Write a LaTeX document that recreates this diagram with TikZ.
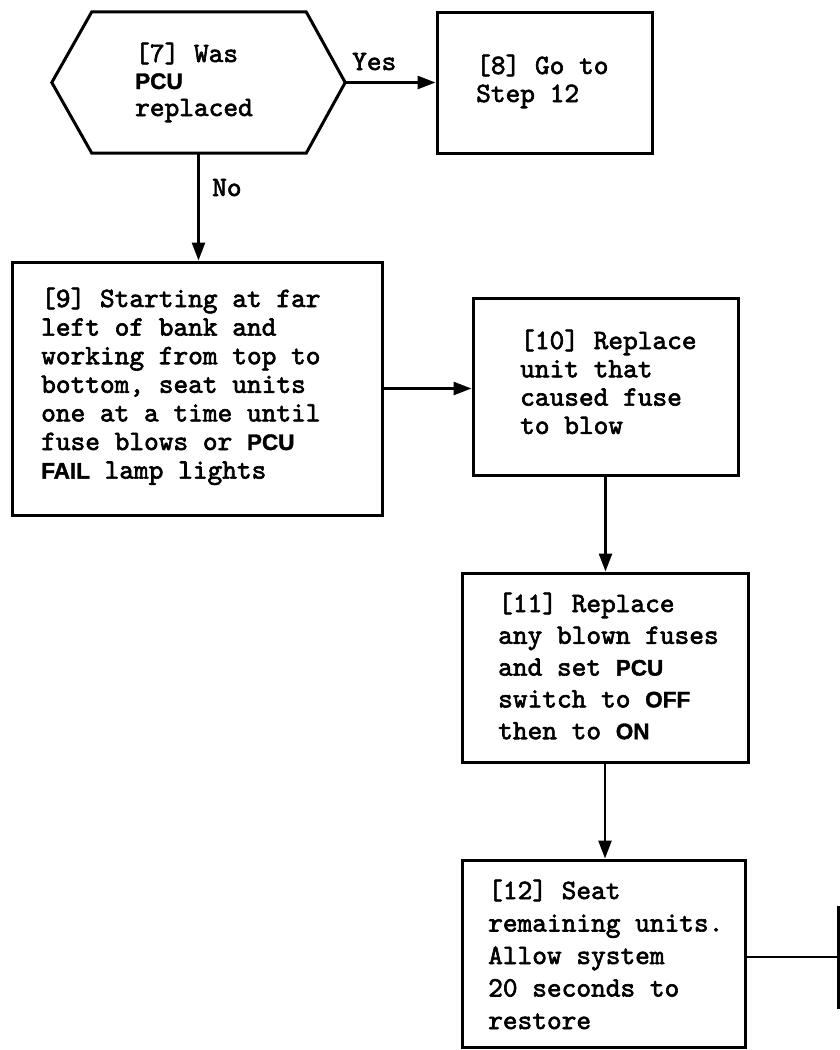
\documentclass[tikz,border=0pt]{standalone}
\usepackage{fontspec}
\newfontfamily\pcufont{Liberation Sans}[BoldFeatures={FakeBold=1.5}]
\newfontfamily\twfont{lmmono10-regular.otf}[FakeBold=2.2]
\usetikzlibrary{arrows.meta}
\newcommand\kw[1]{{\fontsize{22.5}{22.5}\selectfont\pcufont\bfseries #1}}
\newcommand\txtlines[2]{\vtop{\baselineskip=#1\lineskiplimit=-50pt\relax #2}}
\tikzset{
  boxnode/.style={draw, line width=3pt, rectangle, inner sep=0pt},
  ghost/.style={draw=none, inner sep=0pt},
  tw/.style={anchor=base west, inner sep=0pt, font=\fontsize{28}{28}\selectfont\twfont},
  conn/.style={line width=2.6pt, -{Triangle[length=18pt,width=13pt]}},
  plain/.style={line width=2.6pt}
}
\begin{document}
\begin{tikzpicture}[x=1pt,y=-1pt]
\useasboundingbox (0,0) rectangle (840,1050);
\fill[white] (0,0) rectangle (840,1050);
\clip (0,0) rectangle (840,1050);

% decision [7]
\node[ghost, minimum width=293pt, minimum height=141pt] (q7) at (198.5,82.5) {};
\draw[line width=3pt, line join=miter]
  (q7.west) -- ([xshift=40pt]q7.north west) -- ([xshift=-39pt]q7.north east)
  -- (q7.east) -- ([xshift=-39pt]q7.south east) -- ([xshift=40pt]q7.south west) -- cycle;
\node[tw] (t7) at (135,62) {\txtlines{27pt}{\hbox{[7] Was}\hbox{\kw{PCU}}\hbox{replaced}}};

% boxes
\node[boxnode, minimum width=215pt, minimum height=141pt] (b8) at (544.5,82.5) {};
\node[tw] (t8) at (476,74) {\txtlines{28pt}{\hbox{[8] Go to}\hbox{Step 12}}};

\node[boxnode, minimum width=370pt, minimum height=253pt] (b9) at (197,388.5) {};
\node[tw] (t9) at (41,307) {\txtlines{28.6pt}{%
  \hbox{[9] Starting at far}%
  \hbox{left of bank and}%
  \hbox{working from top to}%
  \hbox{bottom, seat units}%
  \hbox{one at a time until}%
  \hbox{fuse blows or \kw{PCU}}%
  \hbox{\kw{FAIL} lamp lights}}};

\node[boxnode, minimum width=265pt, minimum height=177pt] (b10) at (605.5,386.5) {};
\node[tw] (t10) at (520,349) {\txtlines{28.3pt}{%
  \hbox{[10] Replace}%
  \hbox{unit that}%
  \hbox{caused fuse}%
  \hbox{to blow}}};

\node[boxnode, minimum width=286pt, minimum height=189pt] (b11) at (605,667.5) {};
\node[tw] (t11) at (498,612) {\txtlines{31.8pt}{%
  \hbox{[11] Replace}%
  \hbox{any blown fuses}%
  \hbox{and set \kw{PCU}}%
  \hbox{switch to \kw{OFF}}%
  \hbox{then to \kw{ON}}}};

\node[boxnode, minimum width=283pt, minimum height=187pt] (b12) at (603.5,953.5) {};
\node[tw] (t12) at (488,899) {\txtlines{32.5pt}{%
  \hbox{[12] Seat}%
  \hbox{remaining units.}%
  \hbox{Allow system}%
  \hbox{20 seconds to}%
  \hbox{restore}}};

\node[boxnode, minimum width=162pt, minimum height=100pt] (b13) at (919,957) {};

% connectors
\draw[conn] (q7.east) -- (q7.east -| b8.west);
\node[tw] (yes) at (352,70) {Yes};
\draw[conn] (q7.south) -- (q7.south |- b9.north);
\node[tw] (no) at (212,196) {No};
\draw[conn] (b9.east) -- (b9.east -| b10.west);
\draw[conn] (b10.south) -- (b10.south |- b11.north);
\draw[conn] (b11.south) -- (b11.south |- b12.north);
\draw[plain] (b13.west -| b12.east) -- (b13.west);
\end{tikzpicture}
\end{document}
